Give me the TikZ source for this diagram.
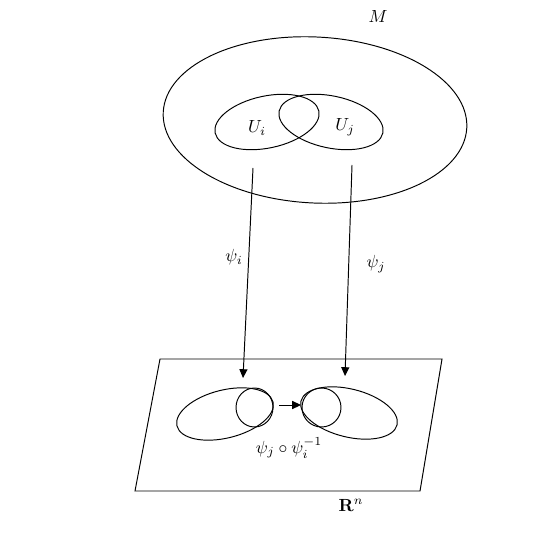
\documentclass[tikz,border=0pt]{standalone}
\usetikzlibrary{arrows.meta}
\begin{document}
\begin{tikzpicture}[x=0.02cm,y=-0.02cm,
  curve/.style={line width=0.55pt},
  mapto/.style={line width=0.55pt,-{Triangle[length=5pt,width=4.6pt]}},
  lbl/.style={inner sep=0pt}]
\useasboundingbox (0,0) rectangle (540,543);
% manifold M
\draw[curve,rotate around={-3:(315,120)}] (315,120) ellipse [x radius=3.04cm, y radius=1.66cm];
\draw[curve,rotate around={12:(267,122)}] (267,122) ellipse [x radius=1.06cm, y radius=0.52cm];
\draw[curve,rotate around={-12:(331,122)}] (331,122) ellipse [x radius=1.06cm, y radius=0.52cm];
\node[lbl] (M) at (378,17) {$M$};
\node[lbl] (Ui) at (257,128) {$U_i$};
\node[lbl] (Uj) at (345,127) {$U_j$};
% plane R^n
\draw[curve] (160,359) -- (442,359) -- (420,491) -- (135,491) -- cycle;
\node[lbl] (Rn) at (351,505) {$\mathbf{R}^n$};
\draw[curve,rotate around={14:(225,414)}] (225,414) ellipse [x radius=0.99cm, y radius=0.48cm];
\draw[curve] (254.5,407.5) ellipse [x radius=0.37cm, y radius=0.39cm];
\draw[curve,rotate around={-14:(349,413)}] (349,413) ellipse [x radius=0.99cm, y radius=0.48cm];
\draw[curve] (321.5,407.5) ellipse [x radius=0.39cm, y radius=0.39cm];
% maps
\coordinate (si) at (253,168);
\coordinate (ti) at (243,378);
\coordinate (sj) at (352,165);
\coordinate (tj) at (345,376);
\coordinate (sc) at (279,405);
\coordinate (tc) at (301,405);
\draw[mapto] (si) -- (ti);
\draw[mapto] (sj) -- (tj);
\draw[mapto] (sc) -- (tc);
\node[lbl] (psii) at (234,257) {$\psi_i$};
\node[lbl] (psij) at (376,264) {$\psi_j$};
\node[lbl] (comp) at (289,448) {$\psi_j\circ\psi_i^{-1}$};
\end{tikzpicture}
\end{document}
